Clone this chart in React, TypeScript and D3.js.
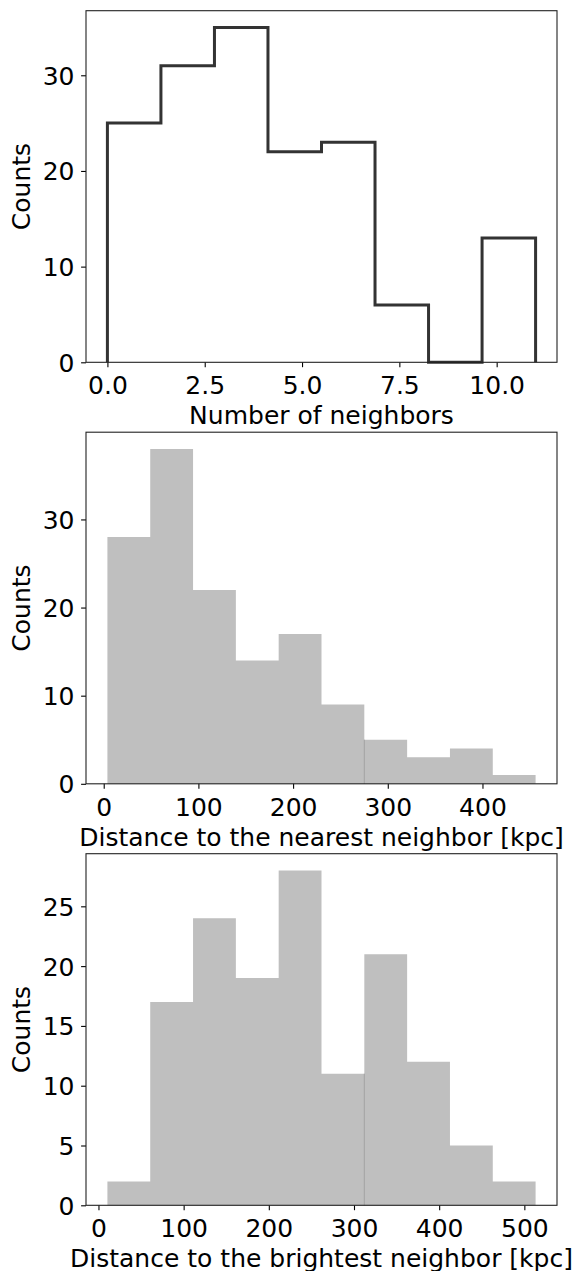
import * as d3 from 'd3';
import React, { useEffect, useRef } from 'react';

// Panel 1: number of neighbors, drawn as a step outline
const neighborCounts = [25, 31, 35, 22, 23, 6, 0, 13];
const neighborRange = [0, 11];
const neighborTicks = [0, 2.5, 5, 7.5, 10];

// Panel 2: distance to the nearest neighbor [kpc]
const nearestCounts = [28, 38, 22, 14, 17, 9, 5, 3, 4, 1];
const nearestRange = [3.9, 456.1];
const nearestTicks = [0, 100, 200, 300, 400];

// Panel 3: distance to the brightest neighbor [kpc]
const brightestCounts = [2, 17, 24, 19, 28, 11, 21, 12, 5, 2];
const brightestRange = [10.5, 513.2];
const brightestTicks = [0, 100, 200, 300, 400, 500];

const countTicksTen = [0, 10, 20, 30];
const countTicksFive = [0, 5, 10, 15, 20, 25];

const xLabels = [
  'Number of neighbors',
  'Distance to the nearest neighbor [kpc]',
  'Distance to the brightest neighbor [kpc]',
];

export default function App() {
  const svgRef = useRef(null);

  const width = 578;
  const height = 1271;
  const left = 86;
  const right = 557;
  const panelTops = [10.7, 432.2, 853.7];
  const panelH = 351.6;
  const fontSize = 25;
  const font = '"DejaVu Sans", sans-serif';

  useEffect(() => {
    const svg = d3.select(svgRef.current);
    svg.selectAll('*').remove();

    const panels = [
      { counts: neighborCounts, range: neighborRange, xticks: neighborTicks, yticks: countTicksTen, fmt: d3.format('.1f'), step: true, seam: -1 },
      { counts: nearestCounts, range: nearestRange, xticks: nearestTicks, yticks: countTicksTen, fmt: d3.format('d'), step: false, seam: 6 },
      { counts: brightestCounts, range: brightestRange, xticks: brightestTicks, yticks: countTicksFive, fmt: d3.format('d'), step: false, seam: 6 },
    ];

    panels.forEach((p, i) => {
      const top = panelTops[i];
      const bottom = top + panelH;
      const [a, b] = p.range;
      const pad = (b - a) * 0.05;
      const x = d3.scaleLinear().domain([a - pad, b + pad]).range([left, right]);
      const ymax = d3.max(p.counts) * 1.05;
      const y = d3.scaleLinear().domain([0, ymax]).range([bottom, top]);

      const n = p.counts.length;
      const bw = (b - a) / n;
      const edges = d3.range(n + 1).map(k => a + k * bw);

      const g = svg.append('g');

      if (p.step) {
        // outline like histtype='step'
        const pts = [[x(edges[0]), y(0)]];
        p.counts.forEach((c, k) => {
          pts.push([x(edges[k]), y(c)]);
          pts.push([x(edges[k + 1]), y(c)]);
        });
        pts.push([x(edges[n]), y(0)]);
        g.append('path')
          .attr('d', d3.line()(pts))
          .attr('fill', 'none')
          .attr('stroke', '#333')
          .attr('stroke-width', 3)
          .attr('stroke-linejoin', 'miter');
      } else {
        // filled bars as one shape so no seams show between them
        const stepData = edges.map((e, k) => ({ e, c: k < n ? p.counts[k] : p.counts[n - 1] }));
        const area = d3.area()
          .x(d => x(d.e))
          .y0(y(0))
          .y1(d => y(d.c))
          .curve(d3.curveStepAfter);
        g.append('path')
          .attr('d', area(stepData))
          .attr('fill', '#bfbfbf');

        // thin seam between two bars
        if (p.seam > 0) {
          const hmin = Math.min(p.counts[p.seam - 1], p.counts[p.seam]);
          g.append('line')
            .attr('x1', x(edges[p.seam]))
            .attr('x2', x(edges[p.seam]))
            .attr('y1', y(0))
            .attr('y2', y(hmin))
            .attr('stroke', '#a3a3a3')
            .attr('stroke-width', 1);
        }
      }

      // X AXIS
      const xAxis = svg.append('g')
        .attr('transform', 'translate(0,' + bottom + ')')
        .call(d3.axisBottom(x).tickValues(p.xticks).tickFormat(p.fmt).tickSize(4.9).tickPadding(9.4));
      xAxis.select('.domain').remove();
      xAxis.selectAll('line').attr('stroke', '#000').attr('stroke-width', 1.1);
      xAxis.selectAll('text')
        .attr('fill', '#000')
        .style('font-family', font)
        .style('font-size', fontSize + 'px');

      // Y AXIS
      const yAxis = svg.append('g')
        .attr('transform', 'translate(' + left + ',0)')
        .call(d3.axisLeft(y).tickValues(p.yticks).tickFormat(d3.format('d')).tickSize(4.9).tickPadding(6.6));
      yAxis.select('.domain').remove();
      yAxis.selectAll('line').attr('stroke', '#000').attr('stroke-width', 1.1);
      yAxis.selectAll('text')
        .attr('fill', '#000')
        .attr('dy', '0.36em')
        .style('font-family', font)
        .style('font-size', fontSize + 'px');

      // frame
      svg.append('rect')
        .attr('x', left)
        .attr('y', top)
        .attr('width', right - left)
        .attr('height', panelH)
        .attr('fill', 'none')
        .attr('stroke', '#222')
        .attr('stroke-width', 1.1);

      // labels
      svg.append('text')
        .attr('x', (left + right) / 2)
        .attr('y', bottom + 62)
        .attr('text-anchor', 'middle')
        .style('font-family', font)
        .style('font-size', fontSize + 'px')
        .text(xLabels[i]);

      svg.append('text')
        .attr('transform', 'translate(30,' + (top + panelH / 2) + ') rotate(-90)')
        .attr('text-anchor', 'middle')
        .style('font-family', font)
        .style('font-size', fontSize + 'px')
        .text('Counts');
    });
  }, []);

  return (
    <svg
      ref={svgRef}
      width={width}
      height={height}
      style={{ position: 'absolute', left: 0, top: 0, background: '#fff' }}
    ></svg>
  );
}
